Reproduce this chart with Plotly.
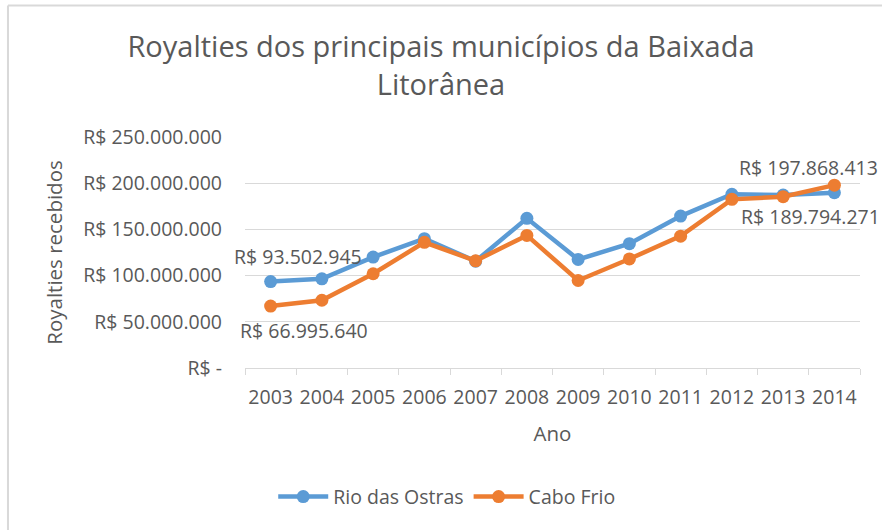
import plotly.graph_objects as go

years = [2003, 2004, 2005, 2006, 2007, 2008, 2009, 2010, 2011, 2012, 2013, 2014]
rio_das_ostras = [93502945, 96500000, 120000000, 140000000, 115600000, 162000000,
                  117500000, 134500000, 164400000, 188000000, 187200000, 189794271]
cabo_frio = [66995640, 73300000, 102000000, 136000000, 116000000, 143500000,
             94700000, 118000000, 142700000, 182500000, 185400000, 197868413]

y_tickvals = [0, 50000000, 100000000, 150000000, 200000000, 250000000]
y_ticktext = ["R$ -", "R$ 50.000.000", "R$ 100.000.000", "R$ 150.000.000",
              "R$ 200.000.000", "R$ 250.000.000"]

FONT = "Open Sans"
GREY = "#595959"
BLUE = "#5B9BD5"
ORANGE = "#ED7D31"
FS = 19.5


def brl(v):
    return "R$ " + f"{v:,}".replace(",", ".")


fig = go.Figure()
fig.add_trace(go.Scatter(x=years, y=rio_das_ostras, name="Rio das Ostras", mode="lines+markers",
                         line=dict(color=BLUE, width=4.5), marker=dict(size=13, color=BLUE)))
fig.add_trace(go.Scatter(x=years, y=cabo_frio, name="Cabo Frio", mode="lines+markers",
                         line=dict(color=ORANGE, width=4.5), marker=dict(size=13, color=ORANGE)))

# data labels (first and last points)
labels = [
    (years[0], rio_das_ostras[0], 27, 25),
    (years[0], cabo_frio[0], 33, -24),
    (years[-1], cabo_frio[-1], -26, 18),
    (years[-1], rio_das_ostras[-1], -24, -24),
]
for x, y, xs, ys in labels:
    fig.add_annotation(x=x, y=y, xref="x", yref="y", text=brl(y), showarrow=False,
                       xshift=xs, yshift=ys, font=dict(family=FONT, size=FS, color=GREY))

# chart-area border (top and left)
fig.add_shape(type="line", xref="paper", yref="paper", x0=-0.3854, x1=1.1, y0=1.569, y1=1.569,
              line=dict(color="#D9D9D9", width=2))
fig.add_shape(type="line", xref="paper", yref="paper", x0=-0.3854, x1=-0.3854, y0=1.569, y1=-0.8,
              line=dict(color="#D9D9D9", width=2))

fig.update_layout(
    width=882, height=530,
    margin=dict(l=245, r=22, t=137, b=162),
    paper_bgcolor="white", plot_bgcolor="white",
    font=dict(family=FONT, color=GREY, size=FS),
    title=dict(text="Royalties dos principais municípios da Baixada<br>Litorânea",
               x=0.5, xanchor="center", y=0.892, yanchor="middle",
               font=dict(family=FONT, size=29, color=GREY)),
    showlegend=True,
    legend=dict(orientation="h", x=0.328, xanchor="center", y=-0.558, yanchor="middle",
                xref="paper", font=dict(family=FONT, size=FS, color=GREY),
                itemwidth=50, bgcolor="rgba(0,0,0,0)"),
    xaxis=dict(range=[2002.5, 2014.5], tickvals=years, ticktext=[str(y) for y in years],
               showgrid=False, zeroline=False, showline=True, linecolor="#D9D9D9", linewidth=1,
               ticks="", ticklabelstandoff=12,
               minor=dict(ticks="outside", tick0=2002.5, dtick=1, ticklen=6, tickcolor="#D9D9D9",
                          showgrid=False),
               tickfont=dict(family=FONT, size=FS, color=GREY),
               title=dict(text="Ano", standoff=17, font=dict(family=FONT, size=20.5, color=GREY))),
    yaxis=dict(range=[0, 250000000], tickvals=y_tickvals, ticktext=y_ticktext,
               showgrid=True, gridcolor="#D9D9D9", gridwidth=1, zeroline=False,
               showline=False, ticks="", ticklabelstandoff=22,
               tickfont=dict(family=FONT, size=FS, color=GREY),
               title=dict(text="Royalties recebidos", standoff=14,
                          font=dict(family=FONT, size=20.5, color=GREY))),
)

fig.write_html("out.html", config={"displayModeBar": False},
               post_script="document.body.style.margin='0';")
